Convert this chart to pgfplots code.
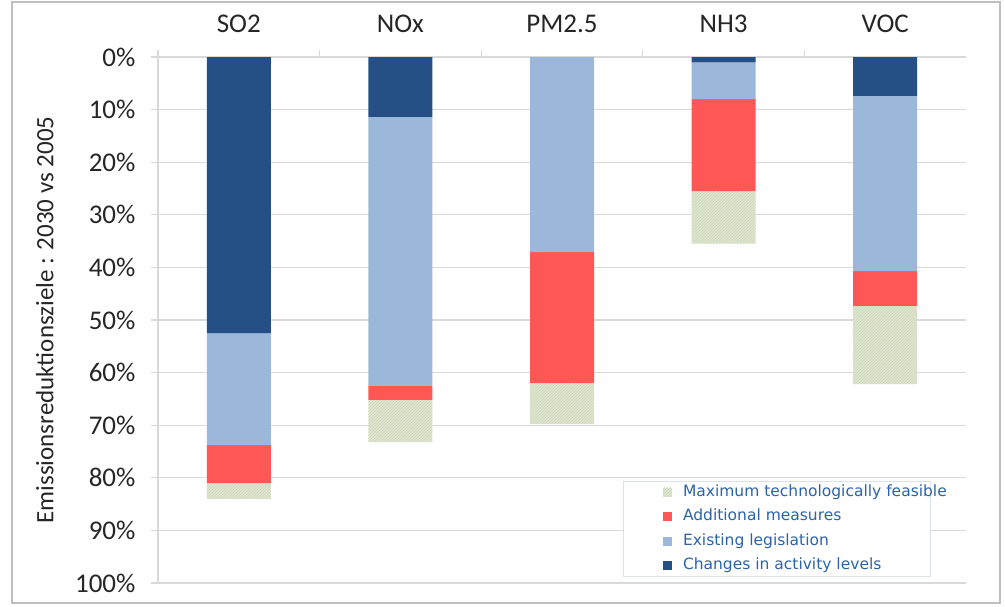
\documentclass[border=0pt]{standalone}
\usepackage{fontspec}
\setmainfont{Carlito}
\newfontfamily\legfont{DejaVu Sans}
\usepackage{pgfplots}
\pgfplotsset{compat=1.18}
\usetikzlibrary{patterns}

\definecolor{activity}{HTML}{255086}
\definecolor{existing}{HTML}{9BB7D9}
\definecolor{additional}{HTML}{FF5656}
\definecolor{maxtech}{HTML}{E0E7D2}
\definecolor{hatch}{HTML}{CBD6B8}
\definecolor{gridgray}{HTML}{D9D9D9}
\definecolor{legtext}{HTML}{2A64AA}
\definecolor{framegray}{HTML}{BFBFBF}

\begin{document}
\begin{tikzpicture}
\begin{axis}[
  width=808pt, height=526pt, scale only axis,
  ybar stacked, bar width=64pt,
  y dir=reverse,
  ymin=0, ymax=100, xmin=-0.5, xmax=4.5,
  axis x line*=top, axis y line*=left,
  axis line style={draw=gridgray, line width=1.2pt},
  xtick={0,1,2,3,4},
  xticklabels={SO2,NOx,PM2.5,NH3,VOC},
  minor xtick={-0.5,0.5,1.5,2.5,3.5},
  major x tick style={draw=none},
  minor x tick style={draw=gridgray, line width=1.2pt},
  ytick={0,10,...,100},
  y tick style={draw=gridgray, line width=1.2pt},
  tick align=outside,
  major tick length=7pt, minor tick length=7pt,
  ymajorgrids, grid style={draw=gridgray, line width=1.2pt},
  yticklabel={\pgfmathprintnumber{\tick}\%},
  /pgf/number format/assume math mode=true,
  tick label style={font=\fontsize{27}{30}\selectfont, text=black!85},
  yticklabel style={xshift=-12pt},
  xticklabel style={yshift=14pt},
  every axis y label/.style={at={(axis description cs:-0.14,0.5)}, rotate=90, anchor=center},
  ylabel={Emissionsreduktionsziele : 2030 vs 2005},
  ylabel style={font=\fontsize{25}{28}\selectfont, text=black!85},
  reverse legend,
  legend cell align=left,
  legend image code/.code={\path (0pt,0pt); \fill[#1] (40pt,-4.5pt) rectangle (49pt,4.5pt);},
  legend style={at={(axis description cs:0.575,0.011)}, anchor=south west,
    draw=gridgray!70!legtext!40, line width=0.8pt,
    font=\legfont\fontsize{15.5}{17}\selectfont, text=legtext,
    inner xsep=0pt, inner ysep=4pt, row sep=10.5pt,
    nodes={inner sep=0pt, text height=11pt, text depth=3pt},
    /tikz/every odd column/.append style={column sep=11pt}},
]
\addplot[fill=activity, draw=none] coordinates {(0,52.5) (1,11.4) (2,0) (3,1.0) (4,7.4)};
\addlegendentry{Changes in activity levels}
\addplot[fill=existing, draw=none] coordinates {(0,21.3) (1,51.1) (2,37.1) (3,7.0) (4,33.3)};
\addlegendentry{Existing legislation}
\addplot[fill=additional, draw=none] coordinates {(0,7.2) (1,2.7) (2,24.9) (3,17.5) (4,6.6)};
\addlegendentry{Additional measures}
\addplot[fill=maxtech, draw=none, postaction={pattern=north east lines, pattern color=hatch}] coordinates {(0,3.0) (1,8.0) (2,7.8) (3,10.0) (4,14.9)};
\addlegendentry{\makebox[247pt][l]{Maximum technologically feasible}}
\end{axis}
\useasboundingbox ([shift={(-158pt,-23pt)}]current axis.south west) rectangle ([shift={(39pt,57pt)}]current axis.north east);
\draw[framegray, line width=1.5pt] ([shift={(-146pt,-20pt)}]current axis.south west) rectangle ([shift={(34pt,55pt)}]current axis.north east);
\end{tikzpicture}
\end{document}
